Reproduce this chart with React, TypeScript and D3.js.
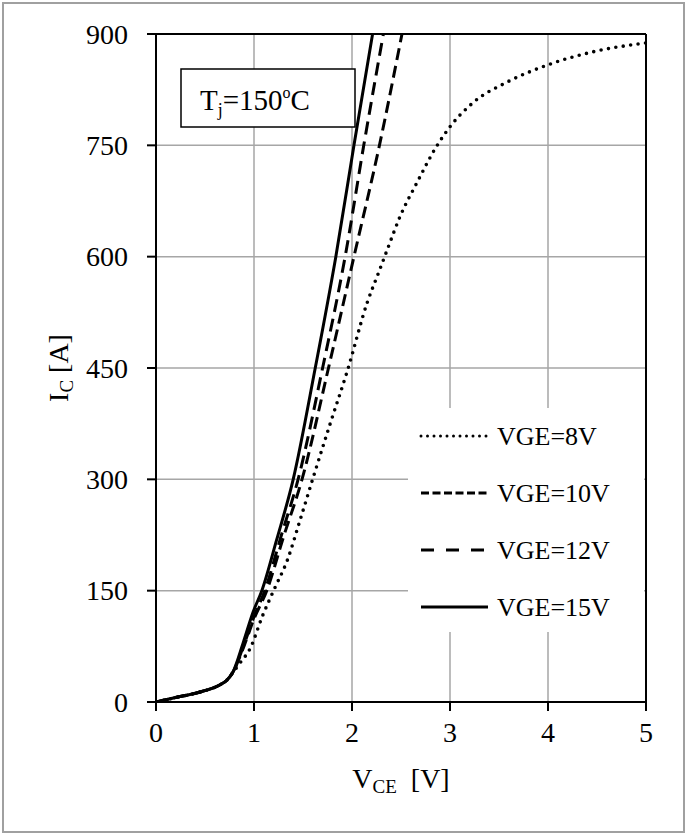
import React from "react";
import * as d3 from "d3";

const xTicks = [0, 1, 2, 3, 4, 5];
const yTicks = [0, 150, 300, 450, 600, 750, 900];

const vce8 = [0, 0.2, 0.45, 0.65, 0.72, 0.78, 0.86, 0.96, 1.09, 1.21, 1.34, 1.47, 1.61, 1.78, 1.95, 2.16, 2.27, 2.37, 2.49, 2.66, 2.86, 3.0, 3.24, 3.58, 3.99, 4.46, 5.0];
const ic8 = [0, 6, 13.5, 23, 29, 39, 53, 72, 117, 153, 191, 245, 305, 376, 445, 540, 578, 613, 654, 699, 748, 775, 808, 835, 858, 876, 888];

const vce10 = [0, 0.2, 0.45, 0.65, 0.72, 0.78, 0.9, 1.0, 1.13, 1.3, 1.49, 1.76, 2.02, 2.28, 2.51];
const ic10 = [0, 6, 13.5, 23, 29, 39, 76, 112, 150, 222, 300, 450, 600, 750, 900];

const vce12 = [0, 0.2, 0.45, 0.65, 0.72, 0.78, 0.9, 1.0, 1.11, 1.28, 1.45, 1.7, 1.93, 2.12, 2.32];
const ic12 = [0, 6, 13.5, 23, 29, 39, 78, 115, 150, 225, 300, 450, 600, 750, 900];

const vce15 = [0, 0.2, 0.45, 0.65, 0.72, 0.78, 0.89, 0.99, 1.08, 1.23, 1.4, 1.625, 1.835, 2.02, 2.21];
const ic15 = [0, 6, 13.5, 23, 29, 39, 80, 121, 150, 218, 300, 450, 600, 750, 900];

const seriesNames = ["VGE=8V", "VGE=10V", "VGE=12V", "VGE=15V"];

const W = 689;
const H = 834;
const left = 156;
const right = 646;
const top = 34;
const bottom = 702;
const FONT = "'Liberation Serif', 'Times New Roman', serif";

export default function App() {
  const x = d3.scaleLinear().domain([0, 5]).range([left, right]);
  const y = d3.scaleLinear().domain([0, 900]).range([bottom, top]);

  const mk = (vs: number[], is: number[]) =>
    d3
      .line<number>()
      .x((_, i) => x(vs[i]))
      .y((_, i) => y(is[i]))
      .curve(d3.curveMonotoneX)(vs) || "";

  const series = [
    { name: seriesNames[0], d: mk(vce8, ic8), dash: "0 7.5", cap: "round" as const, w: 3.6, ldash: "0 6.5", lw: 3 },
    { name: seriesNames[1], d: mk(vce10, ic10), dash: "12 6", cap: "butt" as const, w: 3, ldash: "8 3.5", lw: 3.2 },
    { name: seriesNames[2], d: mk(vce12, ic12), dash: "13 7", cap: "butt" as const, w: 3, ldash: "13 12", lw: 3.2 },
    { name: seriesNames[3], d: mk(vce15, ic15), dash: "none", cap: "butt" as const, w: 3, ldash: "none", lw: 3 },
  ];

  const legendY = [436, 493, 550, 607];

  return (
    <svg
      width={W}
      height={H}
      style={{ position: "absolute", left: 0, top: 0, background: "#fff" }}
      fontFamily={FONT}
    >
      <rect x={0} y={0} width={W} height={H} fill="#fff" />
      <rect x={3} y={3} width={681} height={829} fill="none" stroke="#a0a0a0" strokeWidth={2} />

      <defs>
        <clipPath id="plotclip">
          <rect x={left} y={top} width={right - left} height={bottom - top} />
        </clipPath>
      </defs>

      {/* gridlines */}
      {xTicks.slice(1, -1).map((t) => (
        <line key={"gx" + t} x1={x(t)} x2={x(t)} y1={top} y2={bottom} stroke="#a6a6a6" strokeWidth={1.5} />
      ))}
      {yTicks.slice(1, -1).map((t) => (
        <line key={"gy" + t} x1={left} x2={right} y1={y(t)} y2={y(t)} stroke="#a6a6a6" strokeWidth={1.5} />
      ))}

      {/* legend background */}
      <rect x={408} y={408} width={236} height={224} fill="#fff" />

      {/* Tj box */}
      <rect x={181} y={69} width={174} height={58} fill="#fff" stroke="#000" strokeWidth={1.5} />
      <text x={200} y={110} fontSize={29} fill="#000">
        T
        <tspan fontSize={18} dy={6}>j</tspan>
        <tspan dy={-6}>=150</tspan>
        <tspan fontSize={16} dy={-12}>o</tspan>
        <tspan dy={12}>C</tspan>
      </text>

      {/* curves */}
      <g clipPath="url(#plotclip)">
        {series.map((s) => (
          <path
            key={s.name}
            d={s.d}
            fill="none"
            stroke="#000"
            strokeWidth={s.w}
            strokeDasharray={s.dash}
            strokeLinecap={s.cap}
            strokeLinejoin="round"
          />
        ))}
      </g>

      {/* legend */}
      {series.map((s, i) => (
        <g key={"lg" + s.name}>
          <line
            x1={421}
            x2={488}
            y1={legendY[i]}
            y2={legendY[i]}
            stroke="#000"
            strokeWidth={s.lw}
            strokeDasharray={s.ldash}
            strokeLinecap={s.cap}
          />
          <text x={497} y={legendY[i] + 9} fontSize={26} fill="#000">
            {s.name}
          </text>
        </g>
      ))}

      {/* axes frame */}
      <line x1={left} x2={right} y1={top} y2={top} stroke="#000" strokeWidth={2} />
      <line x1={right} x2={right} y1={top} y2={bottom} stroke="#000" strokeWidth={2} />
      <line x1={left} x2={left} y1={top - 1} y2={bottom + 9} stroke="#000" strokeWidth={2} />
      <line x1={left - 9} x2={right + 1} y1={bottom} y2={bottom} stroke="#000" strokeWidth={2} />

      {/* ticks */}
      {xTicks.map((t) => (
        <g key={"xt" + t}>
          <line x1={x(t)} x2={x(t)} y1={bottom} y2={bottom + 9} stroke="#000" strokeWidth={2} />
          <text x={x(t)} y={742} fontSize={28} textAnchor="middle" fill="#000">
            {t}
          </text>
        </g>
      ))}
      {yTicks.map((t) => (
        <g key={"yt" + t}>
          <line x1={left - 9} x2={left} y1={y(t)} y2={y(t)} stroke="#000" strokeWidth={2} />
          <text x={128} y={y(t) + 9.5} fontSize={28} textAnchor="end" fill="#000">
            {t}
          </text>
        </g>
      ))}

      {/* axis titles */}
      <text x={401} y={788} fontSize={28} textAnchor="middle" fill="#000">
        V<tspan fontSize={19} dy={5}>CE</tspan>
        <tspan dy={-5}>{"\u00a0\u00a0[V]"}</tspan>
      </text>
      <text
        transform={`translate(68, ${(top + bottom) / 2}) rotate(-90)`}
        fontSize={28}
        textAnchor="middle"
        fill="#000"
      >
        I<tspan fontSize={19} dy={5}>C</tspan>
        <tspan dy={-5}>{" [A]"}</tspan>
      </text>
    </svg>
  );
}
